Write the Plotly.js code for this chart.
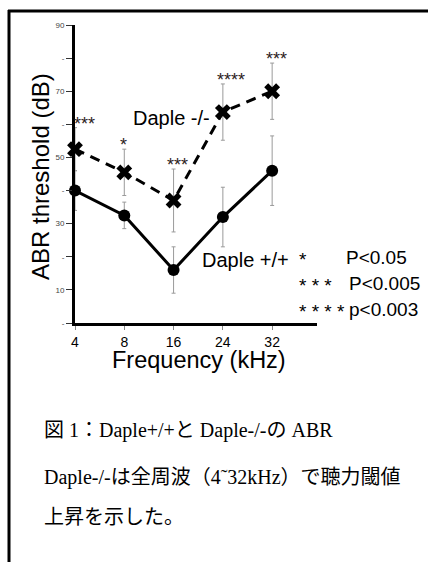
<!DOCTYPE html>
<html>
<head>
<meta charset="utf-8">
<script src="https://cdn.plot.ly/plotly-3.0.1.min.js"></script>
<style>html,body{margin:0;padding:0;background:#fff;}#chart{width:428px;height:562px;}</style>
</head>
<body>
<div id="chart"></div>
<script>
// ---- data ----
const frequencies = ['4', '8', '16', '24', '32'];
const wildType = [40, 32.5, 16, 32, 46];          // Daple +/+
const wildTypeErr = [6, 4, 7, 9, 10.5];
const knockout = [52.5, 45.5, 37, 63.7, 70];      // Daple -/-
const knockoutErr = [6.5, 7, 9.5, 8.5, 8.5];
const significance = ['***', '*', '***', '****', '***'];
const yTickVals = [0, 10, 20, 30, 40, 50, 60, 70, 80, 90];
const yTickText = ['-', '10', '-', '30', '-', '50', '-', '70', '-', '90'];
const legendStars = ['*', '* * *', '* * * *'];
const legendP = ['P<0.05', 'P<0.005', 'p<0.003'];
const captionLines = [
  '図 1：Daple+/+と Daple-/-の ABR',
  'Daple-/-は全周波（4˜32kHz）で聴力閾値',
  '上昇を示した。'
];

// ---- geometry helpers (pixel -> paper) ----
const L = 75, R = 317, T = 25, B = 323;
const xp = px => (px - L) / (R - L);
const yp = py => (B - py) / (B - T);

const sans = 'Liberation Sans, Arial, sans-serif';
const narrow = 'Liberation Sans Narrow, Arial Narrow, Liberation Sans, sans-serif';

const traces = [
  {
    x: frequencies, y: wildType, type: 'scatter', mode: 'lines+markers',
    line: {color: '#000', width: 3},
    marker: {symbol: 'circle', size: 12, color: '#000'},
    error_y: {type: 'data', array: wildTypeErr, visible: true, color: '#9a9a9a', thickness: 1, width: 2},
    cliponaxis: false, showlegend: false
  },
  {
    x: frequencies, y: knockout, type: 'scatter', mode: 'lines+markers',
    line: {color: '#000', width: 3, dash: '10px,7px'},
    marker: {symbol: 'x', size: 14, color: '#000', line: {width: 0}},
    error_y: {type: 'data', array: knockoutErr, visible: true, color: '#9a9a9a', thickness: 1, width: 2},
    cliponaxis: false, showlegend: false
  }
];

const annotations = [];
const starShift = [9.5, -1, 3.5, 8.5, 4];
significance.forEach((s, i) => {
  annotations.push({
    x: i, y: knockout[i] + knockoutErr[i], xref: 'x', yref: 'y',
    text: s, showarrow: false, xanchor: 'center', yanchor: 'bottom',
    xshift: starShift[i], yshift: -8,
    font: {family: sans, size: 18, color: '#2e1c1c'}
  });
});

annotations.push({x: xp(171), y: yp(118), xref: 'paper', yref: 'paper', text: 'Daple -/-',
  showarrow: false, xanchor: 'center', yanchor: 'middle', font: {family: sans, size: 20, color: '#000'}});
annotations.push({x: xp(245), y: yp(260), xref: 'paper', yref: 'paper', text: 'Daple +/+',
  showarrow: false, xanchor: 'center', yanchor: 'middle', font: {family: sans, size: 20, color: '#000'}});

// significance legend
const rowY = [257, 283, 309];
legendStars.forEach((s, i) => {
  annotations.push({x: xp(297), y: yp(rowY[i] + 2), xref: 'paper', yref: 'paper', text: s,
    showarrow: false, xanchor: 'left', yanchor: 'middle', font: {family: sans, size: 19, color: '#000'}});
});
const pX = [344, 347, 347];
legendP.forEach((s, i) => {
  annotations.push({x: xp(pX[i]), y: yp(rowY[i]), xref: 'paper', yref: 'paper', text: s,
    showarrow: false, xanchor: 'left', yanchor: 'middle', font: {family: sans, size: 19, color: '#000'}});
});

// axis titles
annotations.push({x: xp(41), y: yp(177), xref: 'paper', yref: 'paper', text: 'ABR threshold (dB)',
  textangle: -90, showarrow: false, xanchor: 'center', yanchor: 'middle', font: {family: sans, size: 24, color: '#000'}});
annotations.push({x: xp(199), y: yp(360), xref: 'paper', yref: 'paper', text: 'Frequency (kHz)',
  showarrow: false, xanchor: 'center', yanchor: 'middle', font: {family: sans, size: 23.5, color: '#000'}});

// caption
const capY = [430, 477, 517];
captionLines.forEach((s, i) => {
  annotations.push({x: xp(42), y: yp(capY[i]), xref: 'paper', yref: 'paper', text: s,
    showarrow: false, xanchor: 'left', yanchor: 'middle',
    font: {family: 'Liberation Serif, Noto Sans CJK JP, serif', size: 20, color: '#000'}});
});

const shapes = [
  {type: 'line', xref: 'paper', yref: 'paper', x0: xp(8), x1: xp(430), y0: yp(11), y1: yp(11), line: {color: '#000', width: 3}},
  {type: 'line', xref: 'paper', yref: 'paper', x0: xp(9), x1: xp(9), y0: yp(10), y1: yp(565), line: {color: '#000', width: 3}}
];

const layout = {
  width: 428, height: 562,
  margin: {l: L, r: 428 - R, t: T, b: 562 - B, pad: 0},
  paper_bgcolor: '#fff', plot_bgcolor: '#fff',
  showlegend: false,
  xaxis: {
    type: 'category', range: [0, 4.91], showgrid: false, zeroline: false,
    showline: true, linecolor: '#000', linewidth: 3,
    ticks: 'outside', ticklen: 4, tickcolor: '#888', tickwidth: 1,
    tickfont: {family: narrow, size: 14, color: '#000'}, fixedrange: true
  },
  yaxis: {
    range: [0, 90], showgrid: false, zeroline: false,
    showline: true, linecolor: '#000', linewidth: 3,
    tickmode: 'array', tickvals: yTickVals, ticktext: yTickText,
    ticks: 'outside', ticklen: 6, tickcolor: '#333', tickwidth: 1,
    tickfont: {family: sans, size: 8, color: '#444'}, fixedrange: true
  },
  annotations: annotations,
  shapes: shapes
};

Plotly.newPlot('chart', traces, layout, {staticPlot: true, displayModeBar: false});
</script>
</body>
</html>
